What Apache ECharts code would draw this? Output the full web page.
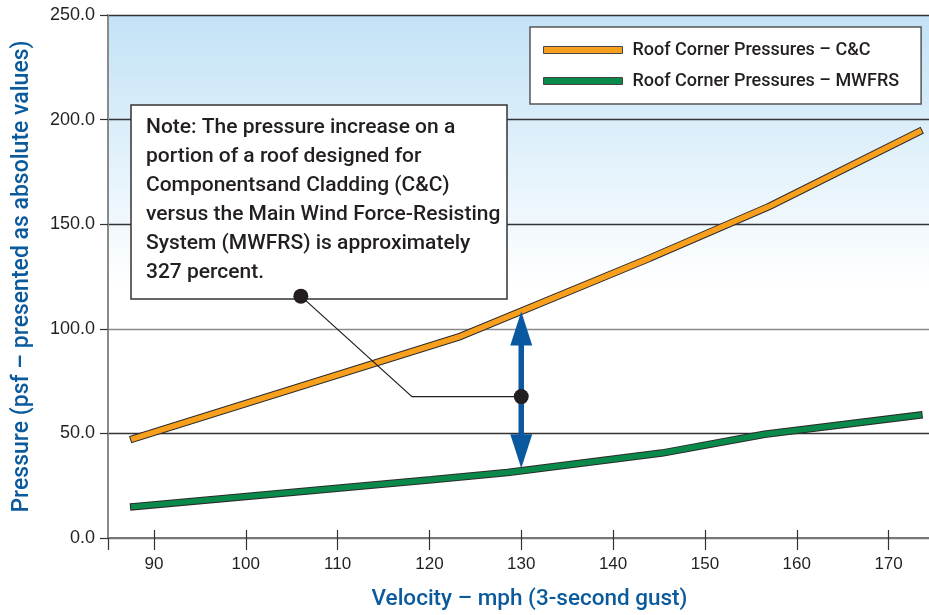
<!DOCTYPE html>
<html>
<head>
<meta charset="utf-8">
<script src="https://cdn.jsdelivr.net/npm/echarts@6/dist/echarts.min.js"></script>
<style>
  html, body { margin: 0; padding: 0; background: #fff; }
  #chart { width: 929px; height: 615px; }
</style>
</head>
<body>
<div id="chart"></div>
<script>
// values
const ccVelocity = [87.8, 123.4, 144, 156.9, 173.3]
const ccPressure = [47.5, 96.4, 133.8, 158.3, 194.2]
const mwVelocity = [87.8, 120.2, 128.5, 145.3, 156.5, 173.3]
const mwPressure = [15, 27.8, 31.3, 40.6, 49.6, 58.7]
const xTicks = [90, 100, 110, 120, 130, 140, 150, 160, 170]
const ccName = 'Roof Corner Pressures – C&C'
const mwName = 'Roof Corner Pressures – MWFRS'
const noteText = [
  'Note: The pressure increase on a',
  'portion of a roof designed for',
  'Componentsand Cladding (C&C)',
  'versus the Main Wind Force-Resisting',
  'System (MWFRS) is approximately',
  '327 percent.'
]

const cond = 'Roboto, "Liberation Sans", sans-serif'
const plain = '"Liberation Sans", sans-serif'
const blue = '#0b5a9c'
const orange = '#f8a01e'
const green = '#0a8a4a'
const edge = '#2b2b2b'

const pairs = (xs, ys) => xs.map((x, i) => [x, ys[i]])

const chart = echarts.init(document.getElementById('chart'))

const option = {
  animation: false,
  grid: {
    left: 108, right: 0, top: 15, bottom: 77,
    outerBoundsMode: 'none',
    show: true,
    borderWidth: 0,
    backgroundColor: new echarts.graphic.LinearGradient(0, 0, 0, 1, [
      { offset: 0, color: '#c2e2f6' },
      { offset: 0.52, color: '#ffffff' },
      { offset: 1, color: '#ffffff' }
    ])
  },
  legend: {
    orient: 'vertical',
    left: 530, top: 27,
    padding: [14, 22, 14, 13],
    backgroundColor: '#fff',
    borderColor: '#555',
    borderWidth: 1.5,
    icon: 'rect',
    itemWidth: 79, itemHeight: 7, itemGap: 13,
    itemStyle: { borderColor: '#444', borderWidth: 1 },
    textStyle: { fontSize: 18, fontWeight: 500, color: '#231f20', fontFamily: cond, padding: [0, 0, 0, 5] },
    data: [ccName, mwName]
  },
  xAxis: [
    {
      type: 'value', min: 85, max: 174.4, position: 'bottom',
      name: 'Velocity – mph (3-second gust)',
      nameLocation: 'middle', nameGap: 50,
      nameTextStyle: { color: blue, fontSize: 22.5, fontWeight: 500, fontFamily: cond, padding: [0, 0, 0, 22] },
      axisLine: { lineStyle: { color: '#777', width: 2 } },
      axisTick: { show: true, length: 12, customValues: [85].concat(xTicks), lineStyle: { color: '#333', width: 1.2 } },
      axisLabel: { customValues: xTicks, margin: 18, fontSize: 17, color: '#231f20', fontFamily: plain },
      splitLine: { show: false }
    },
    {
      type: 'value', min: 85, max: 174.4, position: 'bottom',
      axisLine: { show: false },
      axisTick: { show: true, inside: true, length: 8, customValues: xTicks, lineStyle: { color: '#333', width: 1.2 } },
      axisLabel: { show: false },
      splitLine: { show: false }
    }
  ],
  yAxis: {
    type: 'value', min: 0, max: 250, interval: 50,
    name: 'Pressure (psf – presented as absolute values)',
    nameLocation: 'middle', nameGap: 74, nameRotate: 90,
    nameTextStyle: { color: blue, fontSize: 23, fontWeight: 500, fontFamily: cond },
    axisLine: { show: true, lineStyle: { color: '#8a8a8a', width: 2 } },
    axisTick: { show: true, length: 8, lineStyle: { color: '#333', width: 1.2 } },
    axisLabel: {
      margin: 13, fontSize: 18, color: '#231f20', fontFamily: plain,
      formatter: v => v.toFixed(1)
    },
    splitLine: { show: true, lineStyle: { color: ['#777', '#333', '#8a8a8a', '#333', '#333', '#333'], width: 1.3 } }
  },
  series: [
    {
      name: 'cc-outline', type: 'line', data: pairs(ccVelocity, ccPressure),
      showSymbol: false, silent: true, z: 3,
      lineStyle: { color: edge, width: 7.5, cap: 'square' }
    },
    {
      name: ccName, type: 'line', data: pairs(ccVelocity, ccPressure),
      showSymbol: false, z: 4,
      itemStyle: { color: orange },
      lineStyle: { color: orange, width: 5.5, cap: 'square' }
    },
    {
      name: 'mw-outline', type: 'line', data: pairs(mwVelocity, mwPressure),
      showSymbol: false, silent: true, z: 3,
      lineStyle: { color: edge, width: 7.5, cap: 'square' }
    },
    {
      name: mwName, type: 'line', data: pairs(mwVelocity, mwPressure),
      showSymbol: false, z: 4,
      itemStyle: { color: green },
      lineStyle: { color: green, width: 5.5, cap: 'square' }
    }
  ]
}

chart.setOption(option)

// annotation: note box, leader line and the double arrow at 130 mph
const px = (x, y) => chart.convertToPixel({ gridIndex: 0 }, [x, y])
const leftDot = px(106, 115.6)
const elbow = px(118.1, 67.6)
const rightDot = px(130, 67.6)
const arrowTop = px(130, 108.3)
const arrowBot = px(130, 33.4)
const headW = 22, headH = 34

chart.setOption({
  graphic: [
    {
      type: 'rect', z: 50,
      shape: { x: 131, y: 105, width: 376, height: 194 },
      style: { fill: '#fff', stroke: '#333', lineWidth: 1.5 }
    },
    {
      type: 'text', z: 51, left: 146, top: 113,
      style: {
        text: noteText.join('\n'),
        font: '500 21px ' + cond,
        lineHeight: 29,
        fill: '#231f20'
      }
    },
    {
      type: 'line', z: 52,
      shape: { x1: arrowTop[0], y1: arrowTop[1] + headH - 2, x2: arrowBot[0], y2: arrowBot[1] - headH + 2 },
      style: { stroke: '#0a58a0', lineWidth: 5.5 }
    },
    {
      type: 'polygon', z: 52,
      shape: { points: [[arrowTop[0], arrowTop[1]], [arrowTop[0] - headW / 2, arrowTop[1] + headH], [arrowTop[0] + headW / 2, arrowTop[1] + headH]] },
      style: { fill: '#0a58a0' }
    },
    {
      type: 'polygon', z: 52,
      shape: { points: [[arrowBot[0], arrowBot[1]], [arrowBot[0] - headW / 2, arrowBot[1] - headH], [arrowBot[0] + headW / 2, arrowBot[1] - headH]] },
      style: { fill: '#0a58a0' }
    },
    {
      type: 'polyline', z: 53,
      shape: { points: [leftDot, elbow, rightDot] },
      style: { stroke: '#231f20', lineWidth: 1.2, fill: null }
    },
    {
      type: 'circle', z: 54,
      shape: { cx: leftDot[0], cy: leftDot[1], r: 7.5 },
      style: { fill: '#231f20' }
    },
    {
      type: 'circle', z: 54,
      shape: { cx: rightDot[0], cy: rightDot[1], r: 7.5 },
      style: { fill: '#231f20' }
    }
  ]
})
</script>
</body>
</html>
